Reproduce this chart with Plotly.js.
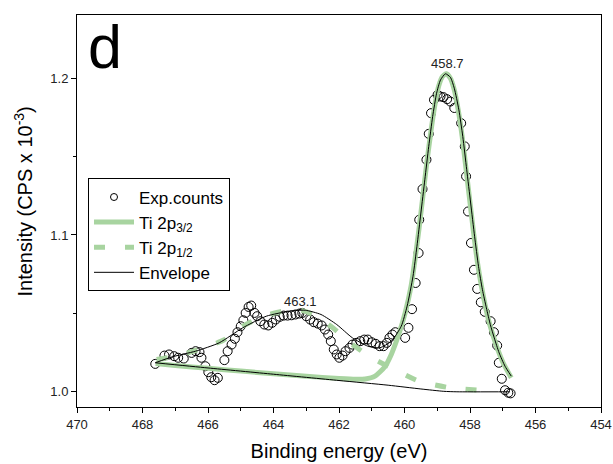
<!DOCTYPE html>
<html>
<head>
<meta charset="utf-8">
<script src="https://cdn.plot.ly/plotly-3.0.1.min.js"></script>
<style>html,body{margin:0;padding:0;background:#fff;}#chart{width:613px;height:464px;}</style>
</head>
<body>
<div id="chart"></div>
<script>
// Experimental counts
const expX = [467.61,467.33,467.19,467.03,466.91,466.74,466.50,466.38,466.26,466.20,466.08,465.99,465.90,465.80,465.70,465.50,465.40,465.28,465.18,465.10,465.00,464.92,464.85,464.76,464.68,464.58,464.50,464.40,464.28,464.16,464.04,463.93,463.81,463.69,463.57,463.45,463.33,463.21,463.12,463.00,462.88,462.77,462.65,462.53,462.43,462.33,462.25,462.16,462.07,461.99,461.89,461.80,461.68,461.59,461.47,461.35,461.23,461.12,461.00,460.88,460.76,460.64,460.54,460.46,460.37,460.28,459.98,459.88,459.77,459.66,459.57,459.55,459.45,459.33,459.26,459.19,459.10,458.99,458.90,458.81,458.70,458.60,458.48,458.27,458.16,458.12,458.06,457.97,457.88,457.78,457.67,457.55,457.37,457.27,457.17,457.12,457.03,456.93,456.83,456.76];
const expY = [1.0178,1.0231,1.0238,1.0227,1.0217,1.0212,1.0248,1.0259,1.0253,1.0217,1.0163,1.0125,1.0093,1.0074,1.0089,1.0202,1.0259,1.0301,1.0338,1.0380,1.0418,1.0456,1.0503,1.0541,1.0550,1.0503,1.0482,1.0450,1.0429,1.0423,1.0440,1.0461,1.0478,1.0486,1.0486,1.0488,1.0493,1.0499,1.0503,1.0482,1.0461,1.0444,1.0435,1.0423,1.0397,1.0365,1.0323,1.0270,1.0238,1.0217,1.0231,1.0259,1.0280,1.0301,1.0312,1.0323,1.0333,1.0333,1.0316,1.0306,1.0291,1.0291,1.0312,1.0344,1.0365,1.0380,1.0344,1.0408,1.0527,1.0694,1.0885,1.1097,1.1293,1.1480,1.1645,1.1777,1.1862,1.1894,1.1883,1.1879,1.1866,1.1851,1.1810,1.1713,1.1565,1.1374,1.1150,1.0949,1.0778,1.0656,1.0571,1.0510,1.0450,1.0380,1.0295,1.0185,1.0083,1.0010,0.9994,0.9990];

// Ti 2p3/2 component
const p32X = [467.60,467.00,466.00,465.00,464.00,463.00,462.00,461.50,461.20,460.90,460.60,460.40,460.16,459.98,459.80,459.68,459.56,459.44,459.32,459.20,459.08,458.96,458.84,458.72,458.60,458.48,458.36,458.24,458.13,458.01,457.89,457.77,457.65,457.53,457.41,457.29,457.17,456.99,456.74];
const p32Y = [1.0180,1.0168,1.0150,1.0132,1.0115,1.0099,1.0085,1.0080,1.0082,1.0100,1.0160,1.0240,1.0376,1.0503,1.0673,1.0843,1.1034,1.1246,1.1459,1.1650,1.1820,1.1947,1.2011,1.2028,1.2000,1.1926,1.1798,1.1628,1.1437,1.1225,1.1013,1.0822,1.0673,1.0546,1.0439,1.0355,1.0280,1.0185,1.0089];

// Ti 2p1/2 component
const p12X = [467.57,467.00,466.62,466.00,465.52,464.94,464.27,463.75,463.15,462.79,462.19,461.59,461.00,460.40,459.56,458.60,457.59];
const p12Y = [1.0206,1.0225,1.0248,1.0290,1.0330,1.0418,1.0484,1.0512,1.0518,1.0493,1.0408,1.0301,1.0217,1.0153,1.0068,1.0025,1.0008];

// Envelope
const envX = [467.61,467.09,466.38,465.66,464.94,464.22,463.51,463.03,462.55,462.07,461.59,461.12,460.76,460.40,460.10,459.92,459.74,459.62,459.50,459.38,459.26,459.14,459.02,458.90,458.75,458.60,458.48,458.34,458.22,458.10,457.98,457.86,457.74,457.62,457.50,457.38,457.26,457.11,456.93,456.74];
const envY = [1.0185,1.0223,1.0259,1.0312,1.0408,1.0482,1.0514,1.0520,1.0493,1.0429,1.0344,1.0291,1.0280,1.0323,1.0418,1.0546,1.0737,1.0928,1.1140,1.1352,1.1565,1.1756,1.1904,1.1989,1.2028,1.2006,1.1936,1.1798,1.1628,1.1416,1.1204,1.0992,1.0800,1.0651,1.0535,1.0429,1.0344,1.0248,1.0163,1.0100];

// Background
const bgX = [467.61,466.00,464.00,462.00,460.50,459.50,458.80,458.40,456.80];
const bgY = [1.0185,1.0152,1.0112,1.0072,1.0042,1.0018,1.0003,1.0000,1.0000];

const xTicks = [470,468,466,464,462,460,458,456,454];
const yTicks = [1.0,1.1,1.2];
const yTickText = ['1.0','1.1','1.2'];
const peakLabels = [{x:458.7, y:1.2091, t:'458.7'},{x:463.17, y:1.0575, t:'463.1'}];

const green = '#a8d4a0';
const FONT = 'Arial, "Liberation Sans", sans-serif';

const traces = [
  {x:expX, y:expY, mode:'markers', name:'Exp.counts', type:'scatter', showlegend:false,
   marker:{symbol:'circle-open', size:9, color:'#000', line:{width:1, color:'#000'}}},
  // legend-only stand-in for the smaller legend symbol
  {x:[null], y:[null], mode:'markers', name:'Exp.counts', type:'scatter',
   marker:{symbol:'circle-open', size:7, color:'#000', line:{width:1, color:'#000'}}},
  {x:p32X, y:p32Y, mode:'lines', name:'Ti 2p<sub>3/2</sub>', type:'scatter',
   line:{color:green, width:5, shape:'spline', smoothing:0.6}},
  {x:p12X, y:p12Y, mode:'lines', name:'Ti 2p<sub>1/2</sub>', type:'scatter',
   line:{color:green, width:5, dash:'11px,20px', shape:'spline', smoothing:0.6}},
  {x:envX, y:envY, mode:'lines', name:'Envelope', type:'scatter',
   line:{color:'#000', width:1, shape:'spline', smoothing:0.6}},
  {x:bgX, y:bgY, mode:'lines', name:'Background', type:'scatter', showlegend:false,
   line:{color:'#000', width:1, shape:'spline', smoothing:0.6}}
];

const annotations = peakLabels.map(p => ({
  x:p.x, y:p.y, xref:'x', yref:'y', text:p.t, showarrow:false,
  xanchor:'center', yanchor:'middle', font:{family:FONT, size:13, color:'#222'}
}));
annotations.push({x:0.018, y:1.0, yshift:4, xref:'paper', yref:'paper', text:'d', showarrow:false,
  xanchor:'left', yanchor:'top', font:{family:FONT, size:61, color:'#000'}});
annotations.push({x:-0.102, y:0.523, xref:'paper', yref:'paper', text:'Intensity (CPS x 10<sup>-3</sup>)',
  showarrow:false, textangle:-90, xanchor:'center', yanchor:'middle',
  font:{family:FONT, size:20, color:'#000'}});

const layout = {
  width:613, height:464,
  margin:{l:77, r:12, t:15, b:57},
  paper_bgcolor:'#fff', plot_bgcolor:'#fff',
  font:{family:FONT, color:'#000'},
  showlegend:true,
  legend:{x:0.021, y:0.583, xanchor:'left', yanchor:'top', bgcolor:'#fff',
    bordercolor:'#000', borderwidth:1, font:{family:FONT, size:17, color:'#000'}, itemwidth:40},
  xaxis:{range:[470,454], tickvals:xTicks, ticks:'outside', ticklen:5, tickwidth:1, tickcolor:'#000',
    showline:true, linecolor:'#000', linewidth:1, mirror:true, showgrid:false, zeroline:false,
    tickfont:{family:FONT, size:13, color:'#222'},
    minor:{dtick:1, tick0:454, ticks:'outside', ticklen:3, tickcolor:'#000', showgrid:false},
    title:{text:'Binding energy (eV)', font:{family:FONT, size:20, color:'#000'}, standoff:13}},
  yaxis:{range:[0.9903,1.2403], tickvals:yTicks, ticktext:yTickText, ticks:'outside', ticklen:5, tickwidth:1, tickcolor:'#000',
    showline:true, linecolor:'#000', linewidth:1, mirror:true, showgrid:false, zeroline:false,
    tickfont:{family:FONT, size:13, color:'#222'},
    minor:{dtick:0.05, tick0:1.0, ticks:'outside', ticklen:3, tickcolor:'#000', showgrid:false}},
  annotations:annotations
};

Plotly.newPlot('chart', traces, layout, {displayModeBar:false, staticPlot:true});
</script>
</body>
</html>
